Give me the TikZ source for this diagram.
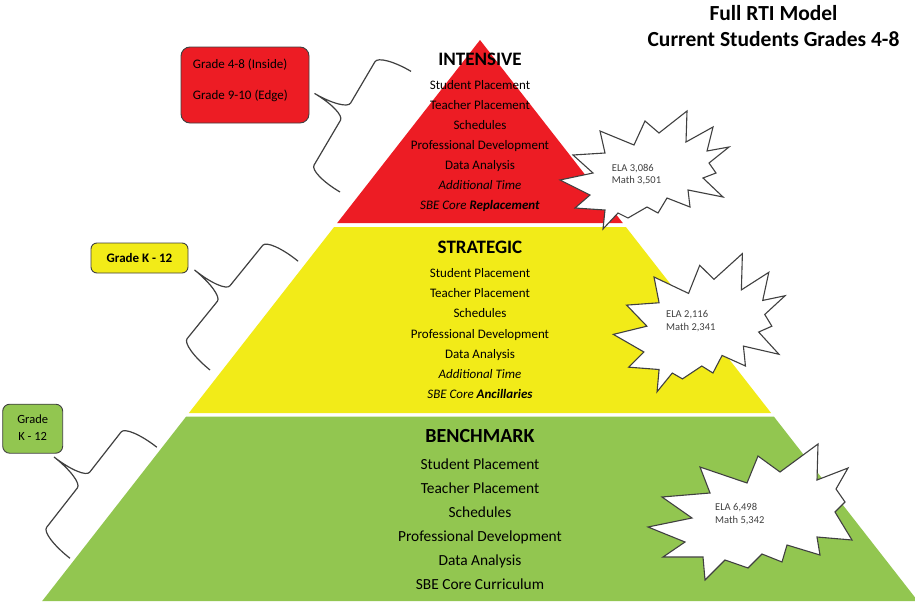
\documentclass[tikz,border=0pt]{standalone}
\usepackage{fontspec}
\setmainfont{Carlito}

\definecolor{tierred}{RGB}{237,28,36}
\definecolor{tieryellow}{RGB}{242,235,24}
\definecolor{tiergreen}{RGB}{146,198,80}
\definecolor{inkgray}{RGB}{64,64,64}

% curly bracket in a local frame: ends at (0,0) and (0,#3), spine at x=-#4, tip at (-2*#4,#5)
\newcommand{\tierbrace}[5]{%
  \begin{scope}[shift={(#1)}, x=1pt, y=1pt, rotate=#2]
    \draw[bracket] (0,0) arc[start angle=270, end angle=180, x radius=#4pt, y radius=10pt]
      -- (-#4,#5-10) arc[start angle=0, end angle=90, x radius=#4pt, y radius=10pt]
      arc[start angle=270, end angle=360, x radius=#4pt, y radius=10pt]
      -- (-#4,#3-10) arc[start angle=180, end angle=90, x radius=#4pt, y radius=10pt];
  \end{scope}}

% outline of the small starburst, relative to its upper-left spike
\newcommand{\burstoutline}{(0,0) -- (34,14) -- (45,-10) -- (59,2) -- (87,-20) -- (86,11)
  -- (113,-4) -- (107,20) -- (129,16) -- (109,32) -- (116,42) -- (103,47) -- (123,66)
  -- (88,59) -- (90,76) -- (67,67) -- (58,82) -- (47,76) -- (28,87) -- (18,82) -- (3,98)
  -- (5,79) -- (-25,77) -- (-10,64) -- (-40,49) -- (-7,42) -- (-27,24) -- (5,22) -- cycle}

\begin{document}
\begin{tikzpicture}[x=1pt, y=-1pt,
  gradebox/.style={draw=inkgray, line width=0.9pt, rounded corners=9pt, inner sep=0pt},
  burst/.style={draw=inkgray, fill=white, line width=1.1pt, line join=miter},
  bracket/.style={draw=inkgray, line width=1.2pt},
  heading/.style={font=\fontsize{19}{22}\selectfont\bfseries, anchor=base, inner sep=0pt},
  item/.style={font=\fontsize{13}{15}\selectfont, anchor=base, inner sep=0pt},
  biglabel/.style={font=\fontsize{15.4}{18}\selectfont, anchor=base, inner sep=0pt},
  boxlabel/.style={font=\fontsize{13}{15}\selectfont, anchor=base west, inner sep=0pt},
  burstlabel/.style={font=\fontsize{10.5}{12.3}\selectfont, text=inkgray, anchor=base west, inner sep=0pt},
  titletext/.style={font=\fontsize{21.5}{26}\selectfont\bfseries, anchor=base, inner sep=0pt}]

\useasboundingbox (0,0) rectangle (915,605);
\fill[white] (0,0) rectangle (915,605);

% title
\node[titletext] (title1) at (773.5,20.7) {Full RTI Model};
\node[titletext] (title2) at (773.5,46.7) {Current Students Grades 4-8};

% pyramid tiers
\fill[tierred] (480,40) -- (622.8,223) -- (337.2,223) -- cycle;
\fill[tieryellow] (334.1,227) -- (625.9,227) -- (771.1,413) -- (188.9,413) -- cycle;
\fill[tiergreen] (186.2,416.5) -- (773.8,416.5) -- (917.8,601) -- (42.2,601) -- cycle;

% intensive tier
\node[heading] (intensive) at (480,65) {INTENSIVE};
\foreach \txt [count=\i] in {Student Placement, Teacher Placement, Schedules,
    Professional Development, Data Analysis, \textit{Additional Time},
    \textit{SBE Core \textbf{Replacement}}}
  \node[item] (int\i) at (480,{89+20.05*(\i-1)}) {\txt};

% strategic tier
\node[heading] (strategic) at (480,253) {STRATEGIC};
\foreach \txt [count=\i] in {Student Placement, Teacher Placement, Schedules,
    Professional Development, Data Analysis, \textit{Additional Time},
    \textit{SBE Core \textbf{Ancillaries}}}
  \node[item] (str\i) at (480,{277.5+20.2*(\i-1)}) {\txt};

% benchmark tier
\node[heading, font=\fontsize{20}{23}\selectfont\bfseries] (benchmark) at (480,442.5) {BENCHMARK};
\foreach \txt [count=\i] in {Student Placement, Teacher Placement, Schedules,
    Professional Development, Data Analysis, SBE Core Curriculum}
  \node[biglabel] (ben\i) at (480,{469+24*(\i-1)}) {\txt};

% grade boxes
\node[gradebox, fill=tierred, minimum width=128pt, minimum height=76pt] (redbox) at (245,85) {};
\node[boxlabel] (redline1) at (192.7,68.3) {Grade 4-8 (Inside)};
\node[boxlabel] (redline2) at (192.7,99) {Grade 9-10 (Edge)};

\node[gradebox, fill=tieryellow, minimum width=97pt, minimum height=30pt, rounded corners=6pt] (yellowbox) at (139.5,258) {};
\node[font=\fontsize{13}{15}\selectfont\bfseries, anchor=base, inner sep=0pt] (yellowline) at (139.5,262) {Grade K - 12};

\node[gradebox, fill=tiergreen, minimum width=60pt, minimum height=49pt, rounded corners=7pt] (greenbox) at (32.7,428.7) {};
\node[font=\fontsize{12.5}{15}\selectfont, anchor=base, inner sep=0pt] (greenline1) at (32.7,423.3) {Grade};
\node[font=\fontsize{12.5}{15}\selectfont, anchor=base, inner sep=0pt] (greenline2) at (32.7,440.7) {K - 12};

% brackets from the grade boxes toward the tiers
\coordinate (redfoot) at (340,192);
\coordinate (yellowfoot) at (210,370);
\coordinate (greenfoot) at (70,558.3);
\tierbrace{redfoot}{-30.5}{140}{36}{72}
\tierbrace{yellowfoot}{-39}{140}{37.5}{68}
\tierbrace{greenfoot}{-38}{141}{37.5}{70}

% enrollment starbursts
\begin{scope}[shift={(600,131)}]
  \draw[burst] \burstoutline;
\end{scope}
\node[burstlabel] (ela1) at (611.7,171) {ELA 3,086};
\node[burstlabel] (math1) at (611.7,183.3) {Math 3,501};

\begin{scope}[shift={(654,277)}, xscale=1.016, yscale=1.171]
  \draw[burst] \burstoutline;
\end{scope}
\node[burstlabel] (ela2) at (666,317.7) {ELA 2,116};
\node[burstlabel] (math2) at (666,330) {Math 2,341};

\draw[burst] (700,467) -- (747,483) -- (758,456) -- (780,472) -- (818,444) -- (817,480)
  -- (848,468) -- (836,489) -- (845,502) -- (835,512) -- (852,540) -- (817,537)
  -- (820,555) -- (787,545) -- (782,562) -- (762,554) -- (748,568) -- (725,560)
  -- (705,580) -- (703,557) -- (663,557) -- (685,542) -- (648,527) -- (692,518)
  -- (662,497) -- (710,493) -- cycle;
\node[burstlabel] (ela3) at (715,510.7) {ELA 6,498};
\node[burstlabel] (math3) at (715,523.3) {Math 5,342};

\end{tikzpicture}
\end{document}
